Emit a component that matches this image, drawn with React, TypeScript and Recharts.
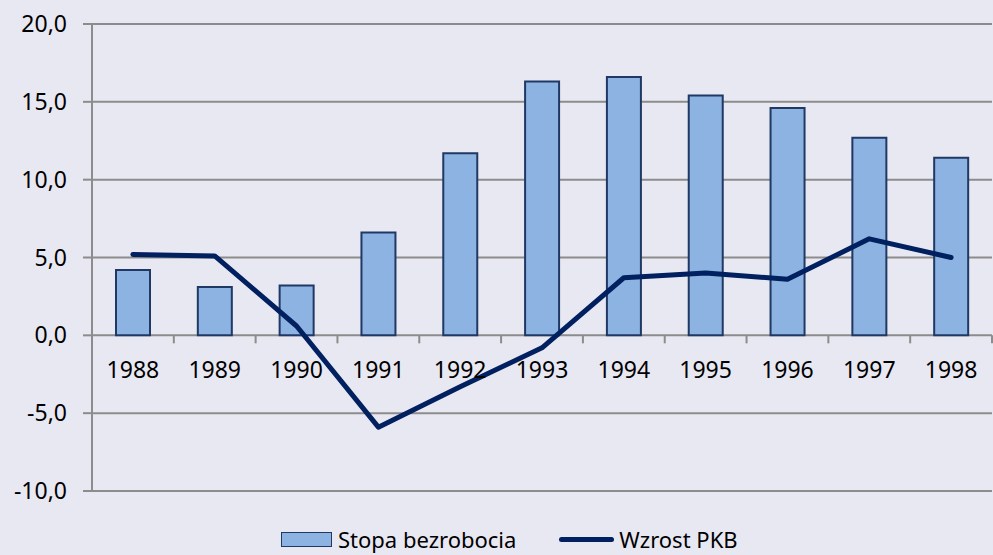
import React from "react";
import { ComposedChart, Bar, Line, XAxis, YAxis, CartesianGrid } from "recharts";

const years = ["1988", "1989", "1990", "1991", "1992", "1993", "1994", "1995", "1996", "1997", "1998"];
const unemployment = [4.2, 3.1, 3.2, 6.6, 11.7, 16.3, 16.6, 15.4, 14.6, 12.7, 11.4];
const gdpGrowth = [5.2, 5.1, 0.6, -5.9, -3.3, -0.8, 3.7, 4.0, 3.6, 6.2, 5.0];
const yTicks = [-10, -5, 0, 5, 10, 15, 20];
const seriesNames = ["Stopa bezrobocia", "Wzrost PKB"];

const W = 993;
const H = 555;
const X_AXIS_H = 30;
const MARGIN = { top: 24, right: 1, bottom: 64 - X_AXIS_H, left: 0 };
const Y_AXIS_W = 92;
const Y_MIN = -10;
const Y_MAX = 20;
const FONT = "'Noto Sans', sans-serif";
const GRID = "#8c8c8c";
const BAR_FILL = "#8db3e2";
const BAR_STROKE = "#1f3864";
const LINE_COLOR = "#002060";

const data = years.map((y, i) => ({ year: y, bez: unemployment[i], pkb: gdpGrowth[i] }));

const PLOT_H = H - MARGIN.top - MARGIN.bottom - X_AXIS_H;
const PLOT_W = W - MARGIN.left - MARGIN.right - Y_AXIS_W;
const BAND = PLOT_W / years.length;
const ZERO_Y = MARGIN.top + (PLOT_H * (Y_MAX - 0)) / (Y_MAX - Y_MIN);

const XTick = (props: any) => {
  const { x, index, payload } = props;
  const last = index === years.length - 1;
  return (
    <g>
      <line x1={x - BAND / 2} x2={x - BAND / 2} y1={ZERO_Y} y2={ZERO_Y + 8} stroke={GRID} strokeWidth={2} />
      {last && (
        <line x1={x + BAND / 2} x2={x + BAND / 2} y1={ZERO_Y} y2={ZERO_Y + 8} stroke={GRID} strokeWidth={2} />
      )}
      <text x={x} y={ZERO_Y + 34} dy="0.36em" textAnchor="middle" fontFamily={FONT} fontSize={23} fill="#000">
        {payload.value}
      </text>
    </g>
  );
};

const fmt = (v: number) => v.toFixed(1).replace(".", ",");

export default function App() {
  return (
    <div style={{ position: "absolute", left: 0, top: 0, width: W, height: H, background: "#e8e8f2", overflow: "hidden" }}>
      <ComposedChart width={W} height={H} data={data} margin={MARGIN} barSize={34}>
        <CartesianGrid vertical={false} stroke={GRID} strokeWidth={2} />
        <XAxis
          dataKey="year"
          height={X_AXIS_H}
          axisLine={false}
          tickLine={false}
          tick={(p: any) => <XTick {...p} />}
          interval={0}
        />
        <YAxis
          width={Y_AXIS_W}
          domain={[Y_MIN, Y_MAX]}
          ticks={yTicks}
          tickFormatter={fmt}
          axisLine={{ stroke: GRID, strokeWidth: 2 }}
          tickLine={{ stroke: GRID, strokeWidth: 2 }}
          tickSize={9}
          tickMargin={16}
          tick={{ fontFamily: FONT, fontSize: 23, fill: "#000" }}
          interval={0}
        />
        <Bar dataKey="bez" fill={BAR_FILL} stroke={BAR_STROKE} strokeWidth={2} isAnimationActive={false} />
        <Line
          dataKey="pkb"
          stroke={LINE_COLOR}
          strokeWidth={5}
          strokeLinecap="round"
          strokeLinejoin="round"
          dot={false}
          activeDot={false}
          type="linear"
          isAnimationActive={false}
        />
      </ComposedChart>
      <div
        style={{
          position: "absolute",
          left: 281,
          top: 527,
          height: 24,
          lineHeight: "24px",
          display: "flex",
          alignItems: "center",
          fontFamily: FONT,
          fontSize: 22,
          color: "#000",
          whiteSpace: "nowrap",
        }}
      >
        <span
          style={{
            display: "inline-block",
            width: 49,
            height: 13,
            background: BAR_FILL,
            border: `1px solid ${BAR_STROKE}`,
            marginRight: 6,
          }}
        />
        <span>{seriesNames[0]}</span>
        <span
          style={{
            display: "inline-block",
            width: 55,
            height: 5,
            borderRadius: 3,
            background: LINE_COLOR,
            marginLeft: 43,
            marginRight: 5,
          }}
        />
        <span>{seriesNames[1]}</span>
      </div>
    </div>
  );
}
